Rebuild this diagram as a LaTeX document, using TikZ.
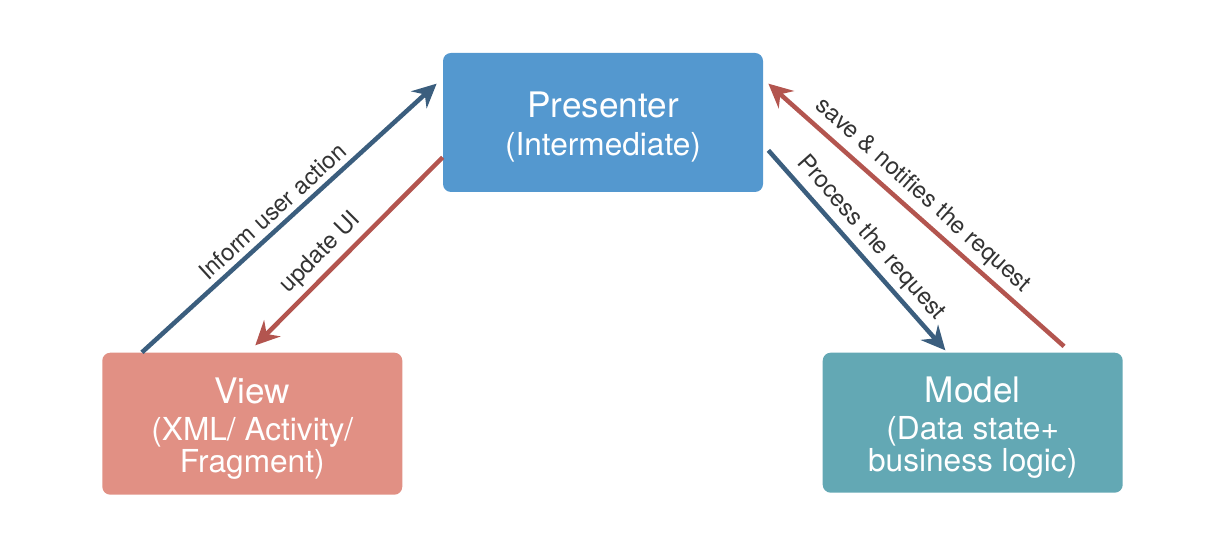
\documentclass[tikz,border=0pt]{standalone}
\usepackage{fontspec}
\setmainfont{TeX Gyre Heros}
\usepackage{tikz}
\usetikzlibrary{positioning, arrows.meta, calc}
\definecolor{presblue}{RGB}{84,152,207}
\definecolor{viewred}{RGB}{225,144,132}
\definecolor{modelteal}{RGB}{99,168,180}
\definecolor{flowblue}{RGB}{59,94,126}
\definecolor{flowred}{RGB}{179,85,79}
\definecolor{labelgray}{RGB}{51,51,51}
\tikzset{
	>={Stealth[length=0.48cm, width=0.46cm, inset=0.16cm]},
	every box/.style={rectangle, rounded corners=0.16cm, text=white, align=center, minimum width=6cm, minimum height=2.8cm, inner sep=0pt},
	flowblue line/.style={->, line width=0.09cm, draw=flowblue},
	flowred line/.style={->, line width=0.09cm, draw=flowred},
	flow label/.style={sloped, above, text=labelgray, font=\fontsize{13.5}{16}\selectfont, inner sep=3pt},
}
\newcommand{\boxtitle}[1]{{\fontsize{20}{24}\selectfont\rule{0pt}{20pt}#1}}
\newcommand{\boxsub}{\fontsize{18}{22}\selectfont}

\begin{document}
\begin{tikzpicture}
			\useasboundingbox (0,0) rectangle (24.2,11.12);
			\node[every box, fill=presblue, minimum width=6.4cm, minimum height=2.78cm] (PRES) at (12.06,8.67) {\boxtitle{Presenter}\\[7pt] \boxsub (Intermediate)};
			\node[every box, fill=viewred, minimum height=2.84cm, below left=3.2cm and 0.8cm of PRES.south west, anchor=north east] (VIEW) {\boxtitle{View}\\[7pt] \boxsub (XML/ Activity/\\ \boxsub Fragment)};
			\node[every box, fill=modelteal, below right=3.2cm and 1.18cm of PRES.south east, anchor=north west] (MODEL) {\boxtitle{Model}\\[7pt] \boxsub (Data state+\\ \boxsub business logic)};
			
			\draw ([xshift=0.8cm]VIEW.north west) edge[flowblue line] node[flow label, pos=0.48]{Inform user action} ([xshift=-0.12cm, yshift=-0.62cm]PRES.north west);
			\draw ([yshift=0.7cm]PRES.south west) edge[flowred line] node[flow label, pos=0.58]{update UI} ([xshift=0.06cm, yshift=0.14cm]VIEW.north);
			\draw ([xshift=0.1cm, yshift=0.84cm]PRES.south east) edge[flowblue line] node[flow label, pos=0.5]{Process the request} ([xshift=2.46cm, yshift=0.04cm]MODEL.north west);
			\draw ([xshift=-1.18cm, yshift=0.12cm]MODEL.north east) edge[flowred line] node[flow label, pos=0.52]{save \& notifies the request} ([xshift=0.1cm, yshift=-0.62cm]PRES.north east);
			
		\end{tikzpicture}
\end{document}
